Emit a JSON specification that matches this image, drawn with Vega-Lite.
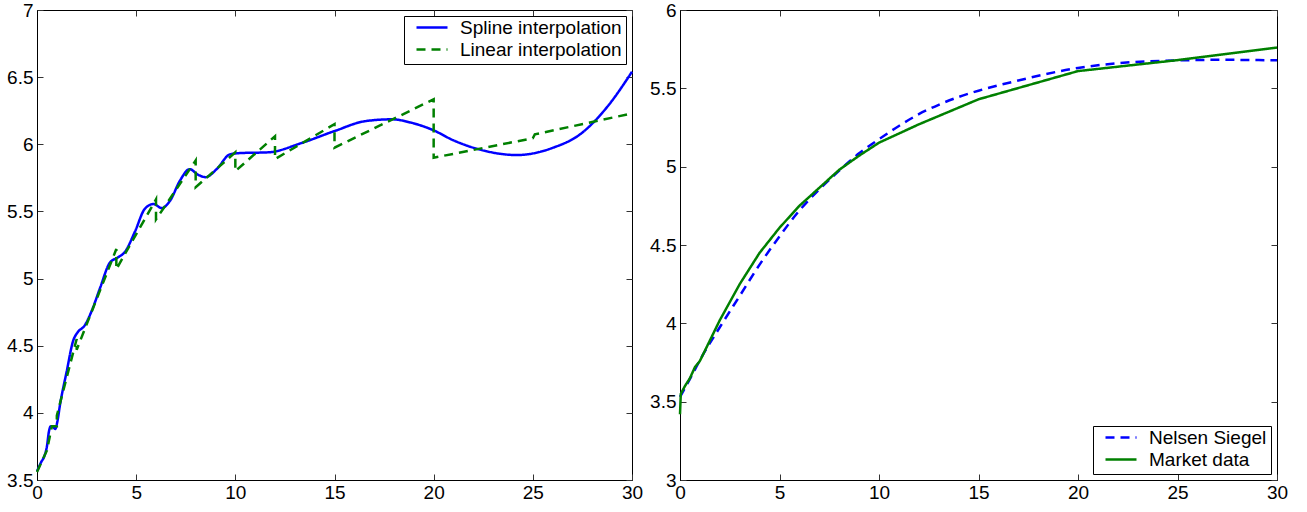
{
  "$schema": "https://vega.github.io/schema/vega-lite/v6.json",
  "padding": {"left": 6, "top": 0, "right": 0, "bottom": 0},
  "spacing": 5,
  "config": {
    "font": "Liberation Sans",
    "view": {"stroke": "black", "strokeWidth": 1},
    "axis": {
      "domainColor": "black", "domainWidth": 1, "tickColor": "#333333", "tickSize": -6,
      "labelFontSize": 19, "labelColor": "black", "labelFont": "Liberation Sans",
      "grid": false, "title": null, "labelOverlap": false, "labelBound": false, "labelFlush": false
    },
    "legend": {
      "title": null, "fillColor": "white", "strokeColor": "black", "symbolType": "stroke",
      "symbolSize": 961, "symbolStrokeWidth": 2.5, "labelFontSize": 19, "labelFont": "Liberation Sans",
      "labelColor": "black", "labelOffset": 11, "labelLimit": 0, "padding": 4, "symbolOffset": 7, "rowPadding": 2, "clipHeight": 15
    }
  },
  "datasets": {
    "left": [
      {"s": "Spline interpolation", "i": 0, "x": 0, "y": 3.565},
      {"s": "Spline interpolation", "i": 1, "x": 0.2, "y": 3.63},
      {"s": "Spline interpolation", "i": 2, "x": 0.4, "y": 3.69},
      {"s": "Spline interpolation", "i": 3, "x": 0.5, "y": 3.75},
      {"s": "Spline interpolation", "i": 4, "x": 0.6, "y": 3.86},
      {"s": "Spline interpolation", "i": 5, "x": 0.7, "y": 3.9},
      {"s": "Spline interpolation", "i": 6, "x": 0.8, "y": 3.895},
      {"s": "Spline interpolation", "i": 7, "x": 0.92, "y": 3.88},
      {"s": "Spline interpolation", "i": 8, "x": 1.02, "y": 3.93},
      {"s": "Spline interpolation", "i": 9, "x": 1.16, "y": 4.06},
      {"s": "Spline interpolation", "i": 10, "x": 1.5, "y": 4.31},
      {"s": "Spline interpolation", "i": 11, "x": 1.83, "y": 4.54},
      {"s": "Spline interpolation", "i": 12, "x": 2.05, "y": 4.6},
      {"s": "Spline interpolation", "i": 13, "x": 2.4, "y": 4.65},
      {"s": "Spline interpolation", "i": 14, "x": 2.76, "y": 4.76},
      {"s": "Spline interpolation", "i": 15, "x": 3.18, "y": 4.93},
      {"s": "Spline interpolation", "i": 16, "x": 3.68, "y": 5.12},
      {"s": "Spline interpolation", "i": 17, "x": 4.05, "y": 5.155},
      {"s": "Spline interpolation", "i": 18, "x": 4.44, "y": 5.2},
      {"s": "Spline interpolation", "i": 19, "x": 4.94, "y": 5.35},
      {"s": "Spline interpolation", "i": 20, "x": 5.44, "y": 5.52},
      {"s": "Spline interpolation", "i": 21, "x": 5.87, "y": 5.555},
      {"s": "Spline interpolation", "i": 22, "x": 6.29, "y": 5.525},
      {"s": "Spline interpolation", "i": 23, "x": 6.71, "y": 5.58},
      {"s": "Spline interpolation", "i": 24, "x": 7.21, "y": 5.73},
      {"s": "Spline interpolation", "i": 25, "x": 7.7, "y": 5.815},
      {"s": "Spline interpolation", "i": 26, "x": 8.1, "y": 5.775},
      {"s": "Spline interpolation", "i": 27, "x": 8.5, "y": 5.755},
      {"s": "Spline interpolation", "i": 28, "x": 9.06, "y": 5.815},
      {"s": "Spline interpolation", "i": 29, "x": 9.73, "y": 5.925},
      {"s": "Spline interpolation", "i": 30, "x": 10.3, "y": 5.935},
      {"s": "Spline interpolation", "i": 31, "x": 11.66, "y": 5.94},
      {"s": "Spline interpolation", "i": 32, "x": 13.35, "y": 6.01},
      {"s": "Spline interpolation", "i": 33, "x": 15.03, "y": 6.1},
      {"s": "Spline interpolation", "i": 34, "x": 16.54, "y": 6.172},
      {"s": "Spline interpolation", "i": 35, "x": 17.88, "y": 6.186},
      {"s": "Spline interpolation", "i": 36, "x": 18.89, "y": 6.16},
      {"s": "Spline interpolation", "i": 37, "x": 19.98, "y": 6.105},
      {"s": "Spline interpolation", "i": 38, "x": 20.99, "y": 6.03},
      {"s": "Spline interpolation", "i": 39, "x": 22.34, "y": 5.96},
      {"s": "Spline interpolation", "i": 40, "x": 24.19, "y": 5.92},
      {"s": "Spline interpolation", "i": 41, "x": 26.03, "y": 5.975},
      {"s": "Spline interpolation", "i": 42, "x": 27.38, "y": 6.074},
      {"s": "Spline interpolation", "i": 43, "x": 28.72, "y": 6.273},
      {"s": "Spline interpolation", "i": 44, "x": 30, "y": 6.54},
      {"s": "Linear interpolation", "i": 0, "x": 0, "y": 3.56},
      {"s": "Linear interpolation", "i": 1, "x": 0.25, "y": 3.64},
      {"s": "Linear interpolation", "i": 2, "x": 0.5, "y": 3.72},
      {"s": "Linear interpolation", "i": 3, "x": 0.75, "y": 3.9},
      {"s": "Linear interpolation", "i": 4, "x": 1, "y": 3.9},
      {"s": "Linear interpolation", "i": 5, "x": 1, "y": 3.98},
      {"s": "Linear interpolation", "i": 6, "x": 2, "y": 4.55},
      {"s": "Linear interpolation", "i": 7, "x": 2, "y": 4.47},
      {"s": "Linear interpolation", "i": 8, "x": 4, "y": 5.22},
      {"s": "Linear interpolation", "i": 9, "x": 4, "y": 5.07},
      {"s": "Linear interpolation", "i": 10, "x": 6, "y": 5.59},
      {"s": "Linear interpolation", "i": 11, "x": 6, "y": 5.44},
      {"s": "Linear interpolation", "i": 12, "x": 8, "y": 5.88},
      {"s": "Linear interpolation", "i": 13, "x": 8, "y": 5.68},
      {"s": "Linear interpolation", "i": 14, "x": 10, "y": 5.94},
      {"s": "Linear interpolation", "i": 15, "x": 10, "y": 5.8},
      {"s": "Linear interpolation", "i": 16, "x": 12, "y": 6.06},
      {"s": "Linear interpolation", "i": 17, "x": 12, "y": 5.89},
      {"s": "Linear interpolation", "i": 18, "x": 15, "y": 6.15},
      {"s": "Linear interpolation", "i": 19, "x": 15, "y": 5.975},
      {"s": "Linear interpolation", "i": 20, "x": 20, "y": 6.335},
      {"s": "Linear interpolation", "i": 21, "x": 20, "y": 5.9},
      {"s": "Linear interpolation", "i": 22, "x": 25, "y": 6.045},
      {"s": "Linear interpolation", "i": 23, "x": 25.1, "y": 6.074},
      {"s": "Linear interpolation", "i": 24, "x": 30, "y": 6.23}
    ],
    "right": [
      {"s": "Nelsen Siegel", "i": 0, "x": 0, "y": 3.53},
      {"s": "Nelsen Siegel", "i": 1, "x": 0.5, "y": 3.645},
      {"s": "Nelsen Siegel", "i": 2, "x": 1, "y": 3.765},
      {"s": "Nelsen Siegel", "i": 3, "x": 2, "y": 3.975},
      {"s": "Nelsen Siegel", "i": 4, "x": 3, "y": 4.175},
      {"s": "Nelsen Siegel", "i": 5, "x": 4, "y": 4.375},
      {"s": "Nelsen Siegel", "i": 6, "x": 5, "y": 4.555},
      {"s": "Nelsen Siegel", "i": 7, "x": 6, "y": 4.72},
      {"s": "Nelsen Siegel", "i": 8, "x": 7, "y": 4.855},
      {"s": "Nelsen Siegel", "i": 9, "x": 8, "y": 4.975},
      {"s": "Nelsen Siegel", "i": 10, "x": 9, "y": 5.085},
      {"s": "Nelsen Siegel", "i": 11, "x": 10, "y": 5.175},
      {"s": "Nelsen Siegel", "i": 12, "x": 11, "y": 5.26},
      {"s": "Nelsen Siegel", "i": 13, "x": 12, "y": 5.335},
      {"s": "Nelsen Siegel", "i": 14, "x": 13, "y": 5.395},
      {"s": "Nelsen Siegel", "i": 15, "x": 14, "y": 5.445},
      {"s": "Nelsen Siegel", "i": 16, "x": 15, "y": 5.485},
      {"s": "Nelsen Siegel", "i": 17, "x": 17, "y": 5.55},
      {"s": "Nelsen Siegel", "i": 18, "x": 20, "y": 5.63},
      {"s": "Nelsen Siegel", "i": 19, "x": 22, "y": 5.66},
      {"s": "Nelsen Siegel", "i": 20, "x": 25, "y": 5.678},
      {"s": "Nelsen Siegel", "i": 21, "x": 27, "y": 5.682},
      {"s": "Nelsen Siegel", "i": 22, "x": 30, "y": 5.679},
      {"s": "Market data", "i": 0, "x": 0, "y": 3.42},
      {"s": "Market data", "i": 1, "x": 0.04, "y": 3.55},
      {"s": "Market data", "i": 2, "x": 0.25, "y": 3.6},
      {"s": "Market data", "i": 3, "x": 0.5, "y": 3.65},
      {"s": "Market data", "i": 4, "x": 0.75, "y": 3.72},
      {"s": "Market data", "i": 5, "x": 1, "y": 3.76},
      {"s": "Market data", "i": 6, "x": 2, "y": 4.02},
      {"s": "Market data", "i": 7, "x": 3, "y": 4.25},
      {"s": "Market data", "i": 8, "x": 4, "y": 4.45},
      {"s": "Market data", "i": 9, "x": 5, "y": 4.61},
      {"s": "Market data", "i": 10, "x": 6, "y": 4.75},
      {"s": "Market data", "i": 11, "x": 7, "y": 4.865},
      {"s": "Market data", "i": 12, "x": 8, "y": 4.98},
      {"s": "Market data", "i": 13, "x": 9, "y": 5.07},
      {"s": "Market data", "i": 14, "x": 10, "y": 5.153},
      {"s": "Market data", "i": 15, "x": 12, "y": 5.27},
      {"s": "Market data", "i": 16, "x": 15, "y": 5.43},
      {"s": "Market data", "i": 17, "x": 20, "y": 5.61},
      {"s": "Market data", "i": 18, "x": 25, "y": 5.68},
      {"s": "Market data", "i": 19, "x": 30, "y": 5.76}
    ]
  },
  "resolve": {"scale": {"color": "independent", "strokeDash": "independent"}, "legend": {"color": "independent", "strokeDash": "independent"}},
  "hconcat": [
    {
      "width": 595, "height": 470,
      "data": {"name": "left"},
      "resolve": {"axis": {"x": "independent", "y": "independent"}},
      "layer": [
        {
          "transform": [{"filter": "datum.s === 'Spline interpolation'"}],
          "mark": {"type": "line", "interpolate": "monotone", "strokeWidth": 2.5},
          "encoding": {
            "x": {"field": "x", "type": "quantitative", "scale": {"domain": [0, 30], "nice": false}, "axis": {"orient": "bottom", "values": [0, 5, 10, 15, 20, 25, 30], "labelPadding": 9}},
            "y": {"field": "y", "type": "quantitative", "scale": {"domain": [3.5, 7], "nice": false, "zero": false}, "axis": {"orient": "left", "values": [3.5, 4, 4.5, 5, 5.5, 6, 6.5, 7], "labelPadding": 10, "labelExpr": "'' + datum.value"}},
            "color": {"field": "s", "type": "nominal", "scale": {"domain": ["Spline interpolation", "Linear interpolation"], "range": ["#0000ff", "#008000"]}, "legend": {"orient": "top-right", "offset": 6}},
            "strokeDash": {"field": "s", "type": "nominal", "scale": {"domain": ["Spline interpolation", "Linear interpolation"], "range": [[1, 0], [9, 6]]}, "legend": {"orient": "top-right", "offset": 6}},
            "order": {"field": "i", "type": "quantitative"}
          }
        },
        {
          "transform": [{"filter": "datum.s === 'Linear interpolation'"}],
          "mark": {"type": "line", "interpolate": "linear", "strokeWidth": 2.5},
          "encoding": {
            "x": {"field": "x", "type": "quantitative", "axis": null},
            "y": {"field": "y", "type": "quantitative", "axis": null},
            "color": {"field": "s", "type": "nominal"},
            "strokeDash": {"field": "s", "type": "nominal"},
            "order": {"field": "i", "type": "quantitative"}
          }
        },
        {
          "mark": {"type": "point", "opacity": 0},
          "encoding": {
            "x": {"field": "x", "type": "quantitative", "axis": {"orient": "top", "values": [0, 5, 10, 15, 20, 25, 30], "labels": false, "domain": false}},
            "y": {"field": "y", "type": "quantitative", "axis": {"orient": "right", "values": [3.5, 4, 4.5, 5, 5.5, 6, 6.5, 7], "labels": false, "domain": false}}
          }
        }
      ]
    },
    {
      "width": 597, "height": 470,
      "data": {"name": "right"},
      "resolve": {"axis": {"x": "independent", "y": "independent"}},
      "layer": [
        {
          "transform": [{"filter": "datum.s === 'Nelsen Siegel'"}],
          "mark": {"type": "line", "interpolate": "monotone", "strokeWidth": 2.5},
          "encoding": {
            "x": {"field": "x", "type": "quantitative", "scale": {"domain": [0, 30], "nice": false}, "axis": {"orient": "bottom", "values": [0, 5, 10, 15, 20, 25, 30], "labelPadding": 9}},
            "y": {"field": "y", "type": "quantitative", "scale": {"domain": [3, 6], "nice": false, "zero": false}, "axis": {"orient": "left", "values": [3, 3.5, 4, 4.5, 5, 5.5, 6], "labelPadding": 10, "labelExpr": "'' + datum.value"}},
            "color": {"field": "s", "type": "nominal", "scale": {"domain": ["Nelsen Siegel", "Market data"], "range": ["#0000ff", "#008000"]}, "legend": {"orient": "bottom-right", "offset": 6}},
            "strokeDash": {"field": "s", "type": "nominal", "scale": {"domain": ["Nelsen Siegel", "Market data"], "range": [[9, 6], [1, 0]]}, "legend": {"orient": "bottom-right", "offset": 6}},
            "order": {"field": "i", "type": "quantitative"}
          }
        },
        {
          "transform": [{"filter": "datum.s === 'Market data'"}],
          "mark": {"type": "line", "interpolate": "linear", "strokeWidth": 2.5},
          "encoding": {
            "x": {"field": "x", "type": "quantitative", "axis": null},
            "y": {"field": "y", "type": "quantitative", "axis": null},
            "color": {"field": "s", "type": "nominal"},
            "strokeDash": {"field": "s", "type": "nominal"},
            "order": {"field": "i", "type": "quantitative"}
          }
        },
        {
          "mark": {"type": "point", "opacity": 0},
          "encoding": {
            "x": {"field": "x", "type": "quantitative", "axis": {"orient": "top", "values": [0, 5, 10, 15, 20, 25, 30], "labels": false, "domain": false}},
            "y": {"field": "y", "type": "quantitative", "axis": {"orient": "right", "values": [3, 3.5, 4, 4.5, 5, 5.5, 6], "labels": false, "domain": false}}
          }
        }
      ]
    }
  ]
}
